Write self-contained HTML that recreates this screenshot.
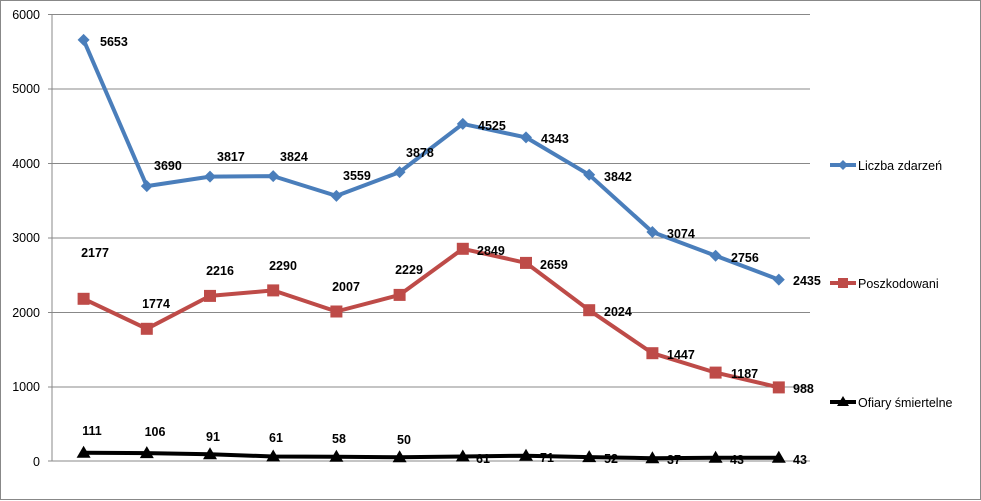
<!DOCTYPE html>
<html><head><meta charset="utf-8"><style>
html,body{margin:0;padding:0;background:#fff}
svg{display:block}
text{font-family:"Liberation Sans",sans-serif;font-size:12.5px;fill:#000}
.b{font-weight:bold}
</style></head><body>
<svg width="981" height="501" viewBox="0 0 981 501">
<rect x="0.5" y="0.5" width="980" height="499" fill="#fff" stroke="#888"/>
<g stroke="#888" stroke-width="1">
<line x1="48" y1="14.5" x2="810" y2="14.5"/>
<line x1="48" y1="89" x2="810" y2="89"/>
<line x1="48" y1="163.5" x2="810" y2="163.5"/>
<line x1="48" y1="238" x2="810" y2="238"/>
<line x1="48" y1="312.5" x2="810" y2="312.5"/>
<line x1="48" y1="387" x2="810" y2="387"/>
<line x1="48" y1="461" x2="810" y2="461"/>
<line x1="52" y1="14" x2="52" y2="461"/>
</g>
<g text-anchor="end">
<text x="40" y="19">6000</text><text x="40" y="93">5000</text><text x="40" y="168">4000</text>
<text x="40" y="242">3000</text><text x="40" y="317">2000</text><text x="40" y="391">1000</text><text x="40" y="466">0</text>
</g>
<polyline fill="none" stroke="#4a7ebb" stroke-width="4" stroke-linejoin="round" points="83.6,39.9 146.8,186.1 210,176.6 273.2,176.1 336.4,195.9 399.6,172.1 462.8,123.9 526,137.4 589.2,174.8 652.4,232 715.6,255.7 778.8,279.6"/>
<g fill="#4a7ebb">
<path d="M83.6,33.9l6,6l-6,6l-6,-6z"/><path d="M146.8,180.1l6,6l-6,6l-6,-6z"/><path d="M210,170.6l6,6l-6,6l-6,-6z"/><path d="M273.2,170.1l6,6l-6,6l-6,-6z"/><path d="M336.4,189.9l6,6l-6,6l-6,-6z"/><path d="M399.6,166.1l6,6l-6,6l-6,-6z"/><path d="M462.8,117.9l6,6l-6,6l-6,-6z"/><path d="M526,131.4l6,6l-6,6l-6,-6z"/><path d="M589.2,168.8l6,6l-6,6l-6,-6z"/><path d="M652.4,226l6,6l-6,6l-6,-6z"/><path d="M715.6,249.7l6,6l-6,6l-6,-6z"/><path d="M778.8,273.6l6,6l-6,6l-6,-6z"/>
</g>
<g class="b">
<text class="b" x="100" y="46">5653</text><text class="b" x="154" y="170">3690</text><text class="b" x="217" y="161">3817</text><text class="b" x="280" y="161">3824</text><text class="b" x="343" y="180">3559</text><text class="b" x="406" y="157">3878</text><text class="b" x="478" y="130">4525</text><text class="b" x="541" y="143">4343</text><text class="b" x="604" y="181">3842</text><text class="b" x="667" y="238">3074</text><text class="b" x="731" y="262">2756</text><text class="b" x="793" y="285">2435</text>
</g>
<polyline fill="none" stroke="#be4b48" stroke-width="4" stroke-linejoin="round" points="83.6,298.8 146.8,328.8 210,295.9 273.2,290.4 336.4,311.5 399.6,294.9 462.8,248.8 526,262.9 589.2,310.2 652.4,353.2 715.6,372.6 778.8,387.4"/>
<g fill="#be4b48">
<rect x="77.6" y="292.8" width="12" height="12"/><rect x="140.8" y="322.8" width="12" height="12"/><rect x="204" y="289.9" width="12" height="12"/><rect x="267.2" y="284.4" width="12" height="12"/><rect x="330.4" y="305.5" width="12" height="12"/><rect x="393.6" y="288.9" width="12" height="12"/><rect x="456.8" y="242.8" width="12" height="12"/><rect x="520" y="256.9" width="12" height="12"/><rect x="583.2" y="304.2" width="12" height="12"/><rect x="646.4" y="347.2" width="12" height="12"/><rect x="709.6" y="366.6" width="12" height="12"/><rect x="772.8" y="381.4" width="12" height="12"/>
</g>
<g text-anchor="middle">
<text class="b" x="95" y="257">2177</text><text class="b" x="156" y="308">1774</text><text class="b" x="220" y="275">2216</text><text class="b" x="283" y="270">2290</text><text class="b" x="346" y="291">2007</text><text class="b" x="409" y="274">2229</text>
</g>
<text class="b" x="477" y="255">2849</text><text class="b" x="540" y="269">2659</text><text class="b" x="604" y="316">2024</text><text class="b" x="667" y="359">1447</text><text class="b" x="731" y="378">1187</text><text class="b" x="793" y="393">988</text>
<polyline fill="none" stroke="#000" stroke-width="4" stroke-linejoin="round" points="83.6,452.7 146.8,453.1 210,454.2 273.2,456.5 336.4,456.7 399.6,457.3 462.8,456.5 526,455.7 589.2,457.1 652.4,458.2 715.6,457.8 778.8,457.8"/>
<g fill="#000">
<path d="M83.6,445.7l7,12h-14z"/><path d="M146.8,446.1l7,12h-14z"/><path d="M210,447.2l7,12h-14z"/><path d="M273.2,449.5l7,12h-14z"/><path d="M336.4,449.7l7,12h-14z"/><path d="M399.6,450.3l7,12h-14z"/><path d="M462.8,449.5l7,12h-14z"/><path d="M526,448.7l7,12h-14z"/><path d="M589.2,450.1l7,12h-14z"/><path d="M652.4,451.2l7,12h-14z"/><path d="M715.6,450.8l7,12h-14z"/><path d="M778.8,450.8l7,12h-14z"/>
</g>
<g text-anchor="middle">
<text class="b" x="92" y="435">111</text><text class="b" x="155" y="436">106</text><text class="b" x="213" y="441">91</text><text class="b" x="276" y="442">61</text><text class="b" x="339" y="443">58</text><text class="b" x="404" y="444">50</text>
</g>
<text class="b" x="476" y="463">61</text><text class="b" x="540" y="462">71</text><text class="b" x="604" y="463">52</text><text class="b" x="667" y="464">37</text><text class="b" x="730" y="464">43</text><text class="b" x="793" y="464">43</text>
<line x1="830" y1="165" x2="856" y2="165" stroke="#4a7ebb" stroke-width="4"/>
<path d="M843,160l5,5l-5,5l-5,-5z" fill="#4a7ebb"/>
<text x="858" y="170">Liczba zdarzeń</text>
<line x1="830" y1="283" x2="856" y2="283" stroke="#be4b48" stroke-width="4"/>
<rect x="838" y="278" width="10" height="10" fill="#be4b48"/>
<text x="858" y="288">Poszkodowani</text>
<line x1="830" y1="402" x2="856" y2="402" stroke="#000" stroke-width="4"/>
<path d="M843,396l6,10h-12z" fill="#000"/>
<text x="858" y="407">Ofiary śmiertelne</text>
</svg>
</body></html>
